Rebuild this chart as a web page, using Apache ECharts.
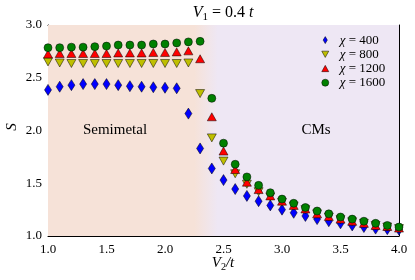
<!DOCTYPE html>
<html><head><meta charset="utf-8">
<script src="https://cdn.jsdelivr.net/npm/echarts@6/dist/echarts.min.js"></script>
<style>html,body{margin:0;padding:0;background:#fff}#c{width:415px;height:280px}</style>
</head><body><div id="c"></div>
<script>
const v2 = [1.0,1.1,1.2,1.3,1.4,1.5,1.6,1.7,1.8,1.9,2.0,2.1,2.2,2.3,2.4,2.5,2.6,2.7,2.8,2.9,3.0,3.1,3.2,3.3,3.4,3.5,3.6,3.7,3.8,3.9,4.0];
const chi400 = [2.385,2.415,2.43,2.44,2.44,2.44,2.43,2.42,2.415,2.41,2.405,2.40,2.16,1.83,1.64,1.53,1.445,1.38,1.33,1.29,1.25,1.22,1.19,1.16,1.14,1.12,1.10,1.085,1.07,1.065,1.06];
const chi800 = [2.65,2.64,2.635,2.635,2.635,2.635,2.635,2.635,2.635,2.635,2.635,2.635,2.64,2.35,1.93,1.71,1.59,1.49,1.42,1.37,1.32,1.285,1.25,1.21,1.18,1.155,1.135,1.12,1.10,1.085,1.07];
const chi1200 = [2.725,2.73,2.73,2.73,2.73,2.73,2.735,2.735,2.735,2.74,2.74,2.745,2.755,2.68,2.13,1.805,1.63,1.51,1.44,1.38,1.33,1.29,1.256,1.21,1.185,1.16,1.14,1.12,1.10,1.09,1.075];
const chi1600 = [2.785,2.785,2.79,2.79,2.795,2.80,2.81,2.81,2.81,2.82,2.82,2.83,2.84,2.845,2.305,1.88,1.68,1.56,1.48,1.41,1.35,1.31,1.27,1.237,1.21,1.18,1.16,1.14,1.12,1.10,1.085];
const xTicks = [1.0,1.5,2.0,2.5,3.0,3.5,4.0];
const yTicks = [1.0,1.5,2.0,2.5,3.0];
const seriesNames = ['χ = 400','χ = 800','χ = 1200','χ = 1600'];
const phaseLabels = ['Semimetal','CMs'];
const phaseBoundary = [2.25, 2.45];

const FONT = 'Liberation Serif';
const colors = ['#0000ff','#bfbf00','#ff0000','#008000'];
const symbols = ['diamond','path://M0,0L10,0L5,9Z','triangle','circle'];
const sizes = [[7,11],[9,8],[9,8],[8,8]];
const legendIcons = ['path://M3,0L6,5L3,10L0,5Z','path://M0,0L10,0L5,9Z','path://M5,0L10,9L0,9Z','circle'];
const allData = [chi400, chi800, chi1200, chi1600];

const chart = echarts.init(document.getElementById('c'), null, {renderer:'canvas'});
const xmin = xTicks[0], xmax = xTicks[xTicks.length-1], xint = xTicks[1]-xTicks[0];
const ymin = yTicks[0], ymax = yTicks[yTicks.length-1], yint = yTicks[1]-yTicks[0];
const peach = '#f6e2d8', lav = '#eee7f4';
const g0 = (phaseBoundary[0]-xmin)/(xmax-xmin), g1 = (phaseBoundary[1]-xmin)/(xmax-xmin);

function axisBase(extra){
  return Object.assign({
    type:'value', splitLine:{show:false},
    axisLine:{show:true,onZero:false,lineStyle:{color:'#000',width:1}},
    axisTick:{show:true,inside:true,length:4,lineStyle:{color:'#000',width:1}},
  }, extra);
}
const labelStyle = {fontFamily:FONT,fontSize:13,color:'#000'};

const series = allData.map((d,i)=>({
  type:'scatter', name:seriesNames[i], xAxisIndex:0, yAxisIndex:0,
  data: v2.map((x,j)=>[x,d[j]]),
  symbol:symbols[i], symbolSize:sizes[i],
  itemStyle:{color:colors[i],borderColor:'#000',borderWidth:0.5,opacity:1},
  emphasis:{disabled:true}, silent:true, z:3+i
}));
series[0].markArea = {
  silent:true, z:1,
  itemStyle:{color:new echarts.graphic.LinearGradient(0,0,1,0,[
    {offset:0,color:peach},{offset:g0,color:peach},{offset:g1,color:lav},{offset:1,color:lav}])},
  data:[[{coord:[xmin,ymin]},{coord:[xmax,ymax]}]]
};

const option = {
  animation:false,
  grid:{left:48,right:16,top:25,bottom:44,show:false},
  xAxis:[
    axisBase({min:xmin,max:xmax,interval:xint,position:'bottom',
      axisLabel:Object.assign({formatter:v=>v.toFixed(1),margin:7},labelStyle)}),
    axisBase({min:xmin,max:xmax,interval:xint,position:'top',axisLabel:{show:false}})
  ],
  yAxis:[
    axisBase({min:ymin,max:ymax,interval:yint,position:'left',
      axisLabel:Object.assign({formatter:v=>v.toFixed(1),margin:6},labelStyle)}),
    axisBase({min:ymin,max:ymax,interval:yint,position:'right',axisLabel:{show:false}})
  ],
  legend:{
    orient:'vertical', left:321.5, top:33.6, padding:0, itemWidth:7, itemHeight:7, itemGap:1.2,
    data:seriesNames.map((n,i)=>({name:n,icon:legendIcons[i]})),
    itemStyle:{borderColor:'#000',borderWidth:0.5},
    formatter:n=>n.replace('χ','{i|χ}'),
    textStyle:{fontFamily:FONT,fontSize:13,color:'#000',padding:[0,0,0,6],
      rich:{i:{fontFamily:FONT,fontSize:13,fontStyle:'italic',color:'#000'}}},
    selectedMode:false
  },
  graphic:[
    {type:'text',x:223,y:13,style:{text:'{i|V}{s|1}{n| = 0.4 }{i|t}',align:'center',verticalAlign:'middle',
      rich:{i:{fontFamily:FONT,fontSize:16,fontStyle:'italic',lineHeight:20,fill:'#000'},
            n:{fontFamily:FONT,fontSize:16,lineHeight:20,fill:'#000'},
            s:{fontFamily:FONT,fontSize:11,lineHeight:13,verticalAlign:'bottom',fill:'#000'}}}},
    {type:'text',x:223,y:263,style:{text:'{i|V}{s|2}{i|/t}',align:'center',verticalAlign:'middle',
      rich:{i:{fontFamily:FONT,fontSize:15,fontStyle:'italic',lineHeight:19,fill:'#000'},
            s:{fontFamily:FONT,fontSize:10,lineHeight:12,verticalAlign:'bottom',fill:'#000'}}}},
    {type:'text',x:12,y:127,rotation:Math.PI/2,style:{text:'S',align:'center',verticalAlign:'middle',
      font:'italic 15px "Liberation Serif"',fill:'#000'}},
    {type:'text',x:115,y:130,style:{text:phaseLabels[0],align:'center',verticalAlign:'middle',
      font:'15px "Liberation Serif"',fill:'#000'}, z:10},
    {type:'text',x:316,y:130,style:{text:phaseLabels[1],align:'center',verticalAlign:'middle',
      font:'15px "Liberation Serif"',fill:'#000'}, z:10}
  ],
  series
};
chart.setOption(option);
</script></body></html>
